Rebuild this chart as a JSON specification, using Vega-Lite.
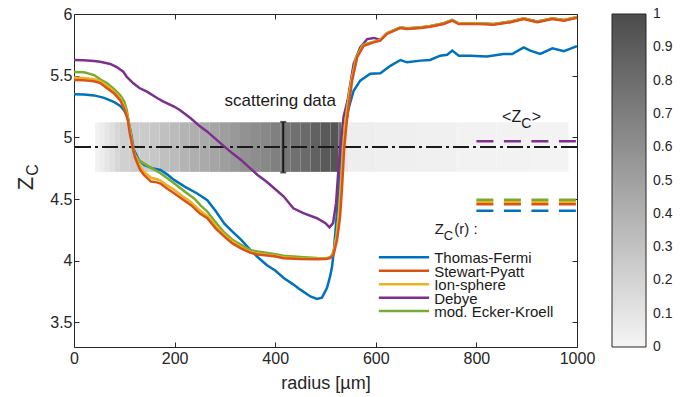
{
  "$schema": "https://vega.github.io/schema/vega-lite/v6.json",
  "width": 503,
  "height": 333,
  "autosize": {"type": "none"},
  "padding": {"left": 74, "top": 14, "right": 119, "bottom": 50},
  "background": "white",
  "data": {"values": [{}]},
  "config": {
    "font": "Liberation Sans",
    "view": {"stroke": null},
    "axis": {
      "grid": false,
      "labelFont": "Liberation Sans",
      "labelFontSize": 16,
      "labelColor": "#262626",
      "labelFlush": false,
      "tickColor": "#262626",
      "domainColor": "#262626",
      "tickSize": -5,
      "tickWidth": 1,
      "domainWidth": 1,
      "titleFont": "Liberation Sans",
      "titleFontSize": 18,
      "titleFontWeight": "normal",
      "titleColor": "#262626"
    }
  },
  "datasets": {
    "scatter": [
      {"r": 416, "mean": 4.922, "lo": 4.715, "hi": 5.125}
    ],
    "band": [
      {"r0": 42, "r1": 50, "v": 0.02},
      {"r0": 50, "r1": 60, "v": 0.05},
      {"r0": 60, "r1": 70, "v": 0.09},
      {"r0": 70, "r1": 80, "v": 0.13},
      {"r0": 80, "r1": 90, "v": 0.18},
      {"r0": 90, "r1": 110, "v": 0.22},
      {"r0": 110, "r1": 130, "v": 0.24},
      {"r0": 130, "r1": 150, "v": 0.25},
      {"r0": 150, "r1": 170, "v": 0.27},
      {"r0": 170, "r1": 190, "v": 0.31},
      {"r0": 190, "r1": 210, "v": 0.34},
      {"r0": 210, "r1": 230, "v": 0.38},
      {"r0": 230, "r1": 250, "v": 0.41},
      {"r0": 250, "r1": 270, "v": 0.44},
      {"r0": 270, "r1": 290, "v": 0.47},
      {"r0": 290, "r1": 310, "v": 0.51},
      {"r0": 310, "r1": 330, "v": 0.54},
      {"r0": 330, "r1": 350, "v": 0.58},
      {"r0": 350, "r1": 370, "v": 0.61},
      {"r0": 370, "r1": 390, "v": 0.64},
      {"r0": 390, "r1": 410, "v": 0.69},
      {"r0": 410, "r1": 430, "v": 0.74},
      {"r0": 430, "r1": 450, "v": 0.78},
      {"r0": 450, "r1": 470, "v": 0.82},
      {"r0": 470, "r1": 490, "v": 0.87},
      {"r0": 490, "r1": 510, "v": 0.92},
      {"r0": 510, "r1": 526, "v": 0.94},
      {"r0": 526, "r1": 532, "v": 0.8},
      {"r0": 532, "r1": 537, "v": 0.4},
      {"r0": 537, "r1": 545, "v": 0.08},
      {"r0": 545, "r1": 600, "v": 0.04},
      {"r0": 600, "r1": 680, "v": 0.035},
      {"r0": 680, "r1": 760, "v": 0.03},
      {"r0": 760, "r1": 840, "v": 0.02},
      {"r0": 840, "r1": 910, "v": 0.015},
      {"r0": 910, "r1": 983, "v": 0.01}
    ],
    "means": [
      {"model": "Thomas-Fermi", "mean": 4.404},
      {"model": "Stewart-Pyatt", "mean": 4.458},
      {"model": "Ion-sphere", "mean": 4.477},
      {"model": "Debye", "mean": 4.968},
      {"model": "mod. Ecker-Kroell", "mean": 4.493}
    ],
    "curves": [
      {"model": "Thomas-Fermi", "r": 0, "z": 5.35},
      {"model": "Thomas-Fermi", "r": 20, "z": 5.347},
      {"model": "Thomas-Fermi", "r": 40, "z": 5.34},
      {"model": "Thomas-Fermi", "r": 60, "z": 5.32},
      {"model": "Thomas-Fermi", "r": 80, "z": 5.285},
      {"model": "Thomas-Fermi", "r": 92, "z": 5.255},
      {"model": "Thomas-Fermi", "r": 100, "z": 5.215},
      {"model": "Thomas-Fermi", "r": 106, "z": 5.17},
      {"model": "Thomas-Fermi", "r": 113, "z": 5.04},
      {"model": "Thomas-Fermi", "r": 119, "z": 4.9},
      {"model": "Thomas-Fermi", "r": 129, "z": 4.815},
      {"model": "Thomas-Fermi", "r": 140, "z": 4.775},
      {"model": "Thomas-Fermi", "r": 155, "z": 4.75},
      {"model": "Thomas-Fermi", "r": 172, "z": 4.735},
      {"model": "Thomas-Fermi", "r": 185, "z": 4.7},
      {"model": "Thomas-Fermi", "r": 199, "z": 4.655},
      {"model": "Thomas-Fermi", "r": 220, "z": 4.6},
      {"model": "Thomas-Fermi", "r": 245, "z": 4.545},
      {"model": "Thomas-Fermi", "r": 265, "z": 4.49},
      {"model": "Thomas-Fermi", "r": 282, "z": 4.4},
      {"model": "Thomas-Fermi", "r": 299, "z": 4.3},
      {"model": "Thomas-Fermi", "r": 315, "z": 4.235},
      {"model": "Thomas-Fermi", "r": 332, "z": 4.17},
      {"model": "Thomas-Fermi", "r": 350, "z": 4.09},
      {"model": "Thomas-Fermi", "r": 365, "z": 4.03},
      {"model": "Thomas-Fermi", "r": 383, "z": 3.965},
      {"model": "Thomas-Fermi", "r": 400, "z": 3.92},
      {"model": "Thomas-Fermi", "r": 417, "z": 3.86},
      {"model": "Thomas-Fermi", "r": 435, "z": 3.81},
      {"model": "Thomas-Fermi", "r": 450, "z": 3.765},
      {"model": "Thomas-Fermi", "r": 470, "z": 3.71},
      {"model": "Thomas-Fermi", "r": 483, "z": 3.69},
      {"model": "Thomas-Fermi", "r": 493, "z": 3.7},
      {"model": "Thomas-Fermi", "r": 503, "z": 3.78},
      {"model": "Thomas-Fermi", "r": 509, "z": 3.87},
      {"model": "Thomas-Fermi", "r": 513, "z": 3.95},
      {"model": "Thomas-Fermi", "r": 517, "z": 4.1},
      {"model": "Thomas-Fermi", "r": 521, "z": 4.3},
      {"model": "Thomas-Fermi", "r": 525, "z": 4.5},
      {"model": "Thomas-Fermi", "r": 530, "z": 4.75},
      {"model": "Thomas-Fermi", "r": 535, "z": 4.95},
      {"model": "Thomas-Fermi", "r": 540, "z": 5.1},
      {"model": "Thomas-Fermi", "r": 545, "z": 5.22},
      {"model": "Thomas-Fermi", "r": 549, "z": 5.28},
      {"model": "Thomas-Fermi", "r": 556, "z": 5.378},
      {"model": "Thomas-Fermi", "r": 569, "z": 5.46},
      {"model": "Thomas-Fermi", "r": 589, "z": 5.515},
      {"model": "Thomas-Fermi", "r": 609, "z": 5.52},
      {"model": "Thomas-Fermi", "r": 629, "z": 5.58},
      {"model": "Thomas-Fermi", "r": 649, "z": 5.627},
      {"model": "Thomas-Fermi", "r": 662, "z": 5.608},
      {"model": "Thomas-Fermi", "r": 689, "z": 5.622},
      {"model": "Thomas-Fermi", "r": 708, "z": 5.627},
      {"model": "Thomas-Fermi", "r": 728, "z": 5.662},
      {"model": "Thomas-Fermi", "r": 742, "z": 5.67},
      {"model": "Thomas-Fermi", "r": 752, "z": 5.703},
      {"model": "Thomas-Fermi", "r": 765, "z": 5.662},
      {"model": "Thomas-Fermi", "r": 788, "z": 5.662},
      {"model": "Thomas-Fermi", "r": 821, "z": 5.655},
      {"model": "Thomas-Fermi", "r": 854, "z": 5.676},
      {"model": "Thomas-Fermi", "r": 871, "z": 5.676},
      {"model": "Thomas-Fermi", "r": 894, "z": 5.73},
      {"model": "Thomas-Fermi", "r": 907, "z": 5.703},
      {"model": "Thomas-Fermi", "r": 927, "z": 5.676},
      {"model": "Thomas-Fermi", "r": 951, "z": 5.722},
      {"model": "Thomas-Fermi", "r": 974, "z": 5.698},
      {"model": "Thomas-Fermi", "r": 1000, "z": 5.74},

      {"model": "Debye", "r": 0, "z": 5.627},
      {"model": "Debye", "r": 20, "z": 5.625},
      {"model": "Debye", "r": 40, "z": 5.618},
      {"model": "Debye", "r": 52, "z": 5.613},
      {"model": "Debye", "r": 72, "z": 5.595},
      {"model": "Debye", "r": 85, "z": 5.57},
      {"model": "Debye", "r": 98, "z": 5.532},
      {"model": "Debye", "r": 105, "z": 5.49},
      {"model": "Debye", "r": 118, "z": 5.438},
      {"model": "Debye", "r": 130, "z": 5.4},
      {"model": "Debye", "r": 145, "z": 5.37},
      {"model": "Debye", "r": 166, "z": 5.317},
      {"model": "Debye", "r": 178, "z": 5.29},
      {"model": "Debye", "r": 199, "z": 5.25},
      {"model": "Debye", "r": 211, "z": 5.22},
      {"model": "Debye", "r": 232, "z": 5.155},
      {"model": "Debye", "r": 251, "z": 5.087},
      {"model": "Debye", "r": 265, "z": 5.046},
      {"model": "Debye", "r": 282, "z": 4.985},
      {"model": "Debye", "r": 299, "z": 4.925},
      {"model": "Debye", "r": 315, "z": 4.87},
      {"model": "Debye", "r": 332, "z": 4.817},
      {"model": "Debye", "r": 350, "z": 4.75},
      {"model": "Debye", "r": 365, "z": 4.695},
      {"model": "Debye", "r": 383, "z": 4.64},
      {"model": "Debye", "r": 398, "z": 4.587},
      {"model": "Debye", "r": 417, "z": 4.52},
      {"model": "Debye", "r": 436, "z": 4.425},
      {"model": "Debye", "r": 456, "z": 4.385},
      {"model": "Debye", "r": 483, "z": 4.344},
      {"model": "Debye", "r": 500, "z": 4.304},
      {"model": "Debye", "r": 508, "z": 4.27},
      {"model": "Debye", "r": 515, "z": 4.304},
      {"model": "Debye", "r": 521, "z": 4.466},
      {"model": "Debye", "r": 525, "z": 4.7},
      {"model": "Debye", "r": 529, "z": 4.898},
      {"model": "Debye", "r": 536, "z": 5.168},
      {"model": "Debye", "r": 544, "z": 5.3},
      {"model": "Debye", "r": 550, "z": 5.45},
      {"model": "Debye", "r": 556, "z": 5.595},
      {"model": "Debye", "r": 569, "z": 5.73},
      {"model": "Debye", "r": 583, "z": 5.797},
      {"model": "Debye", "r": 596, "z": 5.806},
      {"model": "Debye", "r": 609, "z": 5.79},
      {"model": "Debye", "r": 622, "z": 5.843},
      {"model": "Debye", "r": 649, "z": 5.891},
      {"model": "Debye", "r": 662, "z": 5.882},
      {"model": "Debye", "r": 689, "z": 5.891},
      {"model": "Debye", "r": 708, "z": 5.901},
      {"model": "Debye", "r": 735, "z": 5.923},
      {"model": "Debye", "r": 752, "z": 5.95},
      {"model": "Debye", "r": 765, "z": 5.923},
      {"model": "Debye", "r": 808, "z": 5.923},
      {"model": "Debye", "r": 834, "z": 5.917},
      {"model": "Debye", "r": 868, "z": 5.937},
      {"model": "Debye", "r": 894, "z": 5.964},
      {"model": "Debye", "r": 921, "z": 5.937},
      {"model": "Debye", "r": 951, "z": 5.964},
      {"model": "Debye", "r": 974, "z": 5.95},
      {"model": "Debye", "r": 1000, "z": 5.974},

      {"model": "mod. Ecker-Kroell", "r": 0, "z": 5.53},
      {"model": "mod. Ecker-Kroell", "r": 20, "z": 5.527},
      {"model": "mod. Ecker-Kroell", "r": 40, "z": 5.505},
      {"model": "mod. Ecker-Kroell", "r": 52, "z": 5.47},
      {"model": "mod. Ecker-Kroell", "r": 66, "z": 5.438},
      {"model": "mod. Ecker-Kroell", "r": 80, "z": 5.39},
      {"model": "mod. Ecker-Kroell", "r": 92, "z": 5.34},
      {"model": "mod. Ecker-Kroell", "r": 100, "z": 5.29},
      {"model": "mod. Ecker-Kroell", "r": 105, "z": 5.22},
      {"model": "mod. Ecker-Kroell", "r": 109, "z": 5.117},
      {"model": "mod. Ecker-Kroell", "r": 114, "z": 4.99},
      {"model": "mod. Ecker-Kroell", "r": 119, "z": 4.874},
      {"model": "mod. Ecker-Kroell", "r": 126, "z": 4.83},
      {"model": "mod. Ecker-Kroell", "r": 133, "z": 4.803},
      {"model": "mod. Ecker-Kroell", "r": 150, "z": 4.76},
      {"model": "mod. Ecker-Kroell", "r": 165, "z": 4.725},
      {"model": "mod. Ecker-Kroell", "r": 172, "z": 4.709},
      {"model": "mod. Ecker-Kroell", "r": 185, "z": 4.67},
      {"model": "mod. Ecker-Kroell", "r": 199, "z": 4.628},
      {"model": "mod. Ecker-Kroell", "r": 220, "z": 4.56},
      {"model": "mod. Ecker-Kroell", "r": 240, "z": 4.5},
      {"model": "mod. Ecker-Kroell", "r": 251, "z": 4.45},
      {"model": "mod. Ecker-Kroell", "r": 265, "z": 4.398},
      {"model": "mod. Ecker-Kroell", "r": 280, "z": 4.32},
      {"model": "mod. Ecker-Kroell", "r": 297, "z": 4.236},
      {"model": "mod. Ecker-Kroell", "r": 315, "z": 4.17},
      {"model": "mod. Ecker-Kroell", "r": 332, "z": 4.128},
      {"model": "mod. Ecker-Kroell", "r": 350, "z": 4.087},
      {"model": "mod. Ecker-Kroell", "r": 365, "z": 4.074},
      {"model": "mod. Ecker-Kroell", "r": 398, "z": 4.055},
      {"model": "mod. Ecker-Kroell", "r": 417, "z": 4.04},
      {"model": "mod. Ecker-Kroell", "r": 450, "z": 4.03},
      {"model": "mod. Ecker-Kroell", "r": 483, "z": 4.022},
      {"model": "mod. Ecker-Kroell", "r": 503, "z": 4.02},
      {"model": "mod. Ecker-Kroell", "r": 510, "z": 4.03},
      {"model": "mod. Ecker-Kroell", "r": 516, "z": 4.07},
      {"model": "mod. Ecker-Kroell", "r": 522, "z": 4.2},
      {"model": "mod. Ecker-Kroell", "r": 527, "z": 4.4},
      {"model": "mod. Ecker-Kroell", "r": 531, "z": 4.65},
      {"model": "mod. Ecker-Kroell", "r": 535, "z": 4.92},
      {"model": "mod. Ecker-Kroell", "r": 539, "z": 5.12},
      {"model": "mod. Ecker-Kroell", "r": 544, "z": 5.27},
      {"model": "mod. Ecker-Kroell", "r": 551, "z": 5.45},
      {"model": "mod. Ecker-Kroell", "r": 561, "z": 5.65},
      {"model": "mod. Ecker-Kroell", "r": 574, "z": 5.75},
      {"model": "mod. Ecker-Kroell", "r": 596, "z": 5.776},
      {"model": "mod. Ecker-Kroell", "r": 609, "z": 5.79},
      {"model": "mod. Ecker-Kroell", "r": 622, "z": 5.844},
      {"model": "mod. Ecker-Kroell", "r": 649, "z": 5.893},
      {"model": "mod. Ecker-Kroell", "r": 662, "z": 5.884},
      {"model": "mod. Ecker-Kroell", "r": 689, "z": 5.893},
      {"model": "mod. Ecker-Kroell", "r": 708, "z": 5.903},
      {"model": "mod. Ecker-Kroell", "r": 735, "z": 5.925},
      {"model": "mod. Ecker-Kroell", "r": 752, "z": 5.952},
      {"model": "mod. Ecker-Kroell", "r": 765, "z": 5.925},
      {"model": "mod. Ecker-Kroell", "r": 808, "z": 5.925},
      {"model": "mod. Ecker-Kroell", "r": 834, "z": 5.919},
      {"model": "mod. Ecker-Kroell", "r": 868, "z": 5.939},
      {"model": "mod. Ecker-Kroell", "r": 894, "z": 5.966},
      {"model": "mod. Ecker-Kroell", "r": 921, "z": 5.939},
      {"model": "mod. Ecker-Kroell", "r": 951, "z": 5.966},
      {"model": "mod. Ecker-Kroell", "r": 974, "z": 5.952},
      {"model": "mod. Ecker-Kroell", "r": 1000, "z": 5.976},

      {"model": "Ion-sphere", "r": 0, "z": 5.485},
      {"model": "Ion-sphere", "r": 20, "z": 5.482},
      {"model": "Ion-sphere", "r": 40, "z": 5.472},
      {"model": "Ion-sphere", "r": 52, "z": 5.455},
      {"model": "Ion-sphere", "r": 65, "z": 5.42},
      {"model": "Ion-sphere", "r": 80, "z": 5.37},
      {"model": "Ion-sphere", "r": 92, "z": 5.315},
      {"model": "Ion-sphere", "r": 101, "z": 5.24},
      {"model": "Ion-sphere", "r": 107, "z": 5.16},
      {"model": "Ion-sphere", "r": 111, "z": 5.06},
      {"model": "Ion-sphere", "r": 115, "z": 4.96},
      {"model": "Ion-sphere", "r": 121, "z": 4.855},
      {"model": "Ion-sphere", "r": 131, "z": 4.765},
      {"model": "Ion-sphere", "r": 139, "z": 4.72},
      {"model": "Ion-sphere", "r": 153, "z": 4.672},
      {"model": "Ion-sphere", "r": 165, "z": 4.66},
      {"model": "Ion-sphere", "r": 172, "z": 4.65},
      {"model": "Ion-sphere", "r": 185, "z": 4.61},
      {"model": "Ion-sphere", "r": 199, "z": 4.575},
      {"model": "Ion-sphere", "r": 215, "z": 4.525},
      {"model": "Ion-sphere", "r": 232, "z": 4.475},
      {"model": "Ion-sphere", "r": 251, "z": 4.405},
      {"model": "Ion-sphere", "r": 265, "z": 4.362},
      {"model": "Ion-sphere", "r": 282, "z": 4.28},
      {"model": "Ion-sphere", "r": 299, "z": 4.21},
      {"model": "Ion-sphere", "r": 315, "z": 4.155},
      {"model": "Ion-sphere", "r": 332, "z": 4.11},
      {"model": "Ion-sphere", "r": 350, "z": 4.072},
      {"model": "Ion-sphere", "r": 365, "z": 4.058},
      {"model": "Ion-sphere", "r": 398, "z": 4.04},
      {"model": "Ion-sphere", "r": 417, "z": 4.027},
      {"model": "Ion-sphere", "r": 450, "z": 4.018},
      {"model": "Ion-sphere", "r": 483, "z": 4.015},
      {"model": "Ion-sphere", "r": 500, "z": 4.016},
      {"model": "Ion-sphere", "r": 509, "z": 4.022},
      {"model": "Ion-sphere", "r": 516, "z": 4.06},
      {"model": "Ion-sphere", "r": 522, "z": 4.2},
      {"model": "Ion-sphere", "r": 527, "z": 4.4},
      {"model": "Ion-sphere", "r": 531, "z": 4.62},
      {"model": "Ion-sphere", "r": 535, "z": 4.9},
      {"model": "Ion-sphere", "r": 539, "z": 5.1},
      {"model": "Ion-sphere", "r": 544, "z": 5.25},
      {"model": "Ion-sphere", "r": 551, "z": 5.45},
      {"model": "Ion-sphere", "r": 562, "z": 5.65},
      {"model": "Ion-sphere", "r": 575, "z": 5.745},
      {"model": "Ion-sphere", "r": 596, "z": 5.774},
      {"model": "Ion-sphere", "r": 609, "z": 5.788},
      {"model": "Ion-sphere", "r": 622, "z": 5.841},
      {"model": "Ion-sphere", "r": 649, "z": 5.89},
      {"model": "Ion-sphere", "r": 662, "z": 5.881},
      {"model": "Ion-sphere", "r": 689, "z": 5.89},
      {"model": "Ion-sphere", "r": 708, "z": 5.9},
      {"model": "Ion-sphere", "r": 735, "z": 5.922},
      {"model": "Ion-sphere", "r": 752, "z": 5.949},
      {"model": "Ion-sphere", "r": 765, "z": 5.922},
      {"model": "Ion-sphere", "r": 808, "z": 5.922},
      {"model": "Ion-sphere", "r": 834, "z": 5.916},
      {"model": "Ion-sphere", "r": 868, "z": 5.936},
      {"model": "Ion-sphere", "r": 894, "z": 5.963},
      {"model": "Ion-sphere", "r": 921, "z": 5.936},
      {"model": "Ion-sphere", "r": 951, "z": 5.963},
      {"model": "Ion-sphere", "r": 974, "z": 5.949},
      {"model": "Ion-sphere", "r": 1000, "z": 5.973},

      {"model": "Stewart-Pyatt", "r": 0, "z": 5.465},
      {"model": "Stewart-Pyatt", "r": 20, "z": 5.462},
      {"model": "Stewart-Pyatt", "r": 40, "z": 5.455},
      {"model": "Stewart-Pyatt", "r": 52, "z": 5.44},
      {"model": "Stewart-Pyatt", "r": 65, "z": 5.4},
      {"model": "Stewart-Pyatt", "r": 80, "z": 5.355},
      {"model": "Stewart-Pyatt", "r": 92, "z": 5.3},
      {"model": "Stewart-Pyatt", "r": 101, "z": 5.22},
      {"model": "Stewart-Pyatt", "r": 107, "z": 5.14},
      {"model": "Stewart-Pyatt", "r": 111, "z": 5.03},
      {"model": "Stewart-Pyatt", "r": 115, "z": 4.95},
      {"model": "Stewart-Pyatt", "r": 121, "z": 4.84},
      {"model": "Stewart-Pyatt", "r": 131, "z": 4.74},
      {"model": "Stewart-Pyatt", "r": 139, "z": 4.695},
      {"model": "Stewart-Pyatt", "r": 153, "z": 4.641},
      {"model": "Stewart-Pyatt", "r": 165, "z": 4.635},
      {"model": "Stewart-Pyatt", "r": 172, "z": 4.625},
      {"model": "Stewart-Pyatt", "r": 185, "z": 4.585},
      {"model": "Stewart-Pyatt", "r": 199, "z": 4.547},
      {"model": "Stewart-Pyatt", "r": 215, "z": 4.5},
      {"model": "Stewart-Pyatt", "r": 232, "z": 4.452},
      {"model": "Stewart-Pyatt", "r": 251, "z": 4.38},
      {"model": "Stewart-Pyatt", "r": 265, "z": 4.345},
      {"model": "Stewart-Pyatt", "r": 282, "z": 4.26},
      {"model": "Stewart-Pyatt", "r": 299, "z": 4.195},
      {"model": "Stewart-Pyatt", "r": 315, "z": 4.14},
      {"model": "Stewart-Pyatt", "r": 332, "z": 4.1},
      {"model": "Stewart-Pyatt", "r": 350, "z": 4.065},
      {"model": "Stewart-Pyatt", "r": 365, "z": 4.05},
      {"model": "Stewart-Pyatt", "r": 398, "z": 4.035},
      {"model": "Stewart-Pyatt", "r": 417, "z": 4.02},
      {"model": "Stewart-Pyatt", "r": 450, "z": 4.013},
      {"model": "Stewart-Pyatt", "r": 483, "z": 4.012},
      {"model": "Stewart-Pyatt", "r": 500, "z": 4.013},
      {"model": "Stewart-Pyatt", "r": 509, "z": 4.02},
      {"model": "Stewart-Pyatt", "r": 516, "z": 4.047},
      {"model": "Stewart-Pyatt", "r": 523, "z": 4.17},
      {"model": "Stewart-Pyatt", "r": 529, "z": 4.357},
      {"model": "Stewart-Pyatt", "r": 533, "z": 4.6},
      {"model": "Stewart-Pyatt", "r": 537, "z": 4.9},
      {"model": "Stewart-Pyatt", "r": 541, "z": 5.08},
      {"model": "Stewart-Pyatt", "r": 546, "z": 5.25},
      {"model": "Stewart-Pyatt", "r": 553, "z": 5.46},
      {"model": "Stewart-Pyatt", "r": 563, "z": 5.65},
      {"model": "Stewart-Pyatt", "r": 576, "z": 5.743},
      {"model": "Stewart-Pyatt", "r": 596, "z": 5.77},
      {"model": "Stewart-Pyatt", "r": 609, "z": 5.784},
      {"model": "Stewart-Pyatt", "r": 622, "z": 5.838},
      {"model": "Stewart-Pyatt", "r": 649, "z": 5.887},
      {"model": "Stewart-Pyatt", "r": 662, "z": 5.878},
      {"model": "Stewart-Pyatt", "r": 689, "z": 5.887},
      {"model": "Stewart-Pyatt", "r": 708, "z": 5.897},
      {"model": "Stewart-Pyatt", "r": 735, "z": 5.919},
      {"model": "Stewart-Pyatt", "r": 752, "z": 5.946},
      {"model": "Stewart-Pyatt", "r": 765, "z": 5.919},
      {"model": "Stewart-Pyatt", "r": 808, "z": 5.919},
      {"model": "Stewart-Pyatt", "r": 834, "z": 5.913},
      {"model": "Stewart-Pyatt", "r": 868, "z": 5.933},
      {"model": "Stewart-Pyatt", "r": 894, "z": 5.96},
      {"model": "Stewart-Pyatt", "r": 921, "z": 5.933},
      {"model": "Stewart-Pyatt", "r": 951, "z": 5.96},
      {"model": "Stewart-Pyatt", "r": 974, "z": 5.946},
      {"model": "Stewart-Pyatt", "r": 1000, "z": 5.97}
    ]
  },
  "layer": [
    {
      "data": {"name": "band"},
      "mark": {"type": "rect"},
      "encoding": {
        "x": {"field": "r0", "type": "quantitative", "scale": {"domain": [0, 1000], "nice": false, "zero": false},
              "axis": {"orient": "top", "values": [0, 200, 400, 600, 800, 1000], "labels": false, "title": null}},
        "x2": {"field": "r1"},
        "y": {"datum": 4.72, "type": "quantitative", "scale": {"domain": [3.3, 6], "nice": false, "zero": false}, "axis": null},
        "y2": {"datum": 5.122},
        "fill": {"field": "v", "type": "quantitative",
                 "scale": {"domain": [0, 1], "range": ["#f5f5f5", "#4b4b4b"], "interpolate": "rgb"},
                 "legend": {"orient": "none", "legendX": 538, "legendY": 0, "direction": "vertical",
                            "gradientLength": 333, "gradientThickness": 34, "title": null,
                            "values": [0, 0.1, 0.2, 0.3, 0.4, 0.5, 0.6, 0.7, 0.8, 0.9, 1], "format": "~g",
                            "labelFontSize": 14, "labelOffset": 7, "labelOverlap": false, "labelColor": "#262626",
                            "gradientStrokeColor": "#262626", "gradientStrokeWidth": 1,
                            "encode": {"labels": {"update": {"baseline": {"value": "middle"}}}}}}
      }
    },
    {
      "data": {"name": "scatter"},
      "mark": {"type": "rule", "color": "#1a1a1a", "strokeWidth": 2, "strokeDash": [16, 4, 3, 4]},
      "encoding": {
        "y": {"field": "mean", "type": "quantitative", "scale": {"domain": [3.3, 6], "nice": false, "zero": false}, "axis": null}
      }
    },
    {
      "data": {"name": "scatter"},
      "mark": {"type": "rule", "color": "#1a1a1a", "strokeWidth": 2},
      "encoding": {
        "x": {"field": "r", "type": "quantitative", "scale": {"domain": [0, 1000], "nice": false, "zero": false}, "axis": null},
        "y": {"field": "lo", "type": "quantitative", "scale": {"domain": [3.3, 6], "nice": false, "zero": false}, "axis": null},
        "y2": {"field": "hi"}
      }
    },
    {
      "data": {"name": "scatter"},
      "mark": {"type": "tick", "orient": "horizontal", "color": "#1a1a1a", "size": 6, "thickness": 2},
      "encoding": {
        "x": {"field": "r", "type": "quantitative", "scale": {"domain": [0, 1000], "nice": false, "zero": false}, "axis": null},
        "y": {"field": "lo", "type": "quantitative", "scale": {"domain": [3.3, 6], "nice": false, "zero": false}, "axis": null}
      }
    },
    {
      "data": {"name": "scatter"},
      "mark": {"type": "tick", "orient": "horizontal", "color": "#1a1a1a", "size": 6, "thickness": 2},
      "encoding": {
        "x": {"field": "r", "type": "quantitative", "scale": {"domain": [0, 1000], "nice": false, "zero": false}, "axis": null},
        "y": {"field": "hi", "type": "quantitative", "scale": {"domain": [3.3, 6], "nice": false, "zero": false}, "axis": null}
      }
    },
    {
      "data": {"name": "curves"},
      "mark": {"type": "line", "strokeWidth": 2.5, "interpolate": "linear"},
      "encoding": {
        "x": {"field": "r", "type": "quantitative", "scale": {"domain": [0, 1000], "nice": false, "zero": false},
              "axis": {"orient": "bottom", "values": [0, 200, 400, 600, 800, 1000], "format": "d", "labelPadding": 8,
                       "title": "radius [µm]", "titleY": 41, "titleBaseline": "alphabetic"}},
        "y": {"field": "z", "type": "quantitative", "scale": {"domain": [3.3, 6], "nice": false, "zero": false},
              "axis": {"orient": "left", "values": [3.5, 4, 4.5, 5, 5.5, 6], "format": "~g", "labelPadding": 7,
                       "title": "Z", "titleFontSize": 22, "titleX": -42, "titleY": 169, "titleAngle": 270, "titleAlign": "center", "titleBaseline": "alphabetic"}},
        "stroke": {"field": "model", "type": "nominal",
                   "scale": {"domain": ["Thomas-Fermi", "Stewart-Pyatt", "Ion-sphere", "Debye", "mod. Ecker-Kroell"],
                             "range": ["#0072BD", "#D95319", "#EDB120", "#7E2F8E", "#77AC30"]},
                   "legend": null}
      }
    },
    {
      "data": {"name": "means"},
      "mark": {"type": "rule", "strokeWidth": 2.5, "strokeDash": [17, 10.5]},
      "encoding": {
        "x": {"datum": 800, "type": "quantitative", "scale": {"domain": [0, 1000], "nice": false, "zero": false}, "axis": null},
        "x2": {"datum": 1000},
        "y": {"field": "mean", "type": "quantitative", "scale": {"domain": [3.3, 6], "nice": false, "zero": false},
              "axis": {"orient": "right", "values": [3.5, 4, 4.5, 5, 5.5, 6], "labels": false, "title": null}},
        "stroke": {"field": "model", "type": "nominal", "legend": null}
      }
    },
    {
      "data": {"name": "means"},
      "mark": {"type": "rule", "strokeWidth": 2.5},
      "encoding": {
        "x": {"datum": 606, "type": "quantitative", "scale": {"domain": [0, 1000], "nice": false, "zero": false}, "axis": null},
        "x2": {"datum": 706},
        "y": {"datum": 4.082, "type": "quantitative", "scale": {"domain": [3.3, 6], "nice": false, "zero": false}, "axis": null},
        "yOffset": {"field": "model", "type": "nominal",
                    "scale": {"type": "point", "domain": ["Thomas-Fermi", "Stewart-Pyatt", "Ion-sphere", "Debye", "mod. Ecker-Kroell"], "range": [0, 67.3]}},
        "stroke": {"field": "model", "type": "nominal", "legend": null}
      }
    },
    {
      "data": {"name": "means"},
      "mark": {"type": "text", "align": "left", "baseline": "middle", "fontSize": 15, "color": "#1a1a1a", "dy": 1},
      "encoding": {
        "x": {"datum": 716, "type": "quantitative", "scale": {"domain": [0, 1000], "nice": false, "zero": false}, "axis": null},
        "y": {"datum": 4.082, "type": "quantitative", "scale": {"domain": [3.3, 6], "nice": false, "zero": false}, "axis": null},
        "yOffset": {"field": "model", "type": "nominal",
                    "scale": {"type": "point", "domain": ["Thomas-Fermi", "Stewart-Pyatt", "Ion-sphere", "Debye", "mod. Ecker-Kroell"], "range": [0, 67.3]}},
        "text": {"field": "model"}
      }
    },
    {
      "mark": {"type": "text", "align": "left", "baseline": "alphabetic", "fontSize": 15, "color": "#1a1a1a", "text": "Z"},
      "encoding": {
        "x": {"datum": 717, "type": "quantitative", "scale": {"domain": [0, 1000], "nice": false, "zero": false}, "axis": null},
        "y": {"datum": 4.217, "type": "quantitative", "scale": {"domain": [3.3, 6], "nice": false, "zero": false}, "axis": null}
      }
    },
    {
      "mark": {"type": "text", "align": "left", "baseline": "alphabetic", "fontSize": 13, "color": "#1a1a1a", "text": "C"},
      "encoding": {
        "x": {"datum": 735, "type": "quantitative", "scale": {"domain": [0, 1000], "nice": false, "zero": false}, "axis": null},
        "y": {"datum": 4.169, "type": "quantitative", "scale": {"domain": [3.3, 6], "nice": false, "zero": false}, "axis": null}
      }
    },
    {
      "mark": {"type": "text", "align": "left", "baseline": "alphabetic", "fontSize": 15, "color": "#1a1a1a", "text": "(r) :"},
      "encoding": {
        "x": {"datum": 756, "type": "quantitative", "scale": {"domain": [0, 1000], "nice": false, "zero": false}, "axis": null},
        "y": {"datum": 4.217, "type": "quantitative", "scale": {"domain": [3.3, 6], "nice": false, "zero": false}, "axis": null}
      }
    },
    {
      "mark": {"type": "text", "align": "center", "baseline": "alphabetic", "fontSize": 17, "color": "#1a1a1a", "text": "scattering data"},
      "encoding": {
        "x": {"datum": 410, "type": "quantitative", "scale": {"domain": [0, 1000], "nice": false, "zero": false}, "axis": null},
        "y": {"datum": 5.254, "type": "quantitative", "scale": {"domain": [3.3, 6], "nice": false, "zero": false}, "axis": null}
      }
    },
    {
      "mark": {"type": "text", "align": "left", "baseline": "alphabetic", "fontSize": 16, "color": "#1a1a1a", "text": "<Z"},
      "encoding": {
        "x": {"datum": 851, "type": "quantitative", "scale": {"domain": [0, 1000], "nice": false, "zero": false}, "axis": null},
        "y": {"datum": 5.125, "type": "quantitative", "scale": {"domain": [3.3, 6], "nice": false, "zero": false}, "axis": null}
      }
    },
    {
      "mark": {"type": "text", "align": "left", "baseline": "alphabetic", "fontSize": 14, "color": "#1a1a1a", "text": "C"},
      "encoding": {
        "x": {"datum": 889, "type": "quantitative", "scale": {"domain": [0, 1000], "nice": false, "zero": false}, "axis": null},
        "y": {"datum": 5.074, "type": "quantitative", "scale": {"domain": [3.3, 6], "nice": false, "zero": false}, "axis": null}
      }
    },
    {
      "mark": {"type": "text", "align": "left", "baseline": "alphabetic", "fontSize": 16, "color": "#1a1a1a", "text": ">"},
      "encoding": {
        "x": {"datum": 910, "type": "quantitative", "scale": {"domain": [0, 1000], "nice": false, "zero": false}, "axis": null},
        "y": {"datum": 5.125, "type": "quantitative", "scale": {"domain": [3.3, 6], "nice": false, "zero": false}, "axis": null}
      }
    },
    {
      "mark": {"type": "text", "align": "center", "baseline": "alphabetic", "fontSize": 16, "angle": 270, "color": "#262626", "text": "C"},
      "encoding": {
        "x": {"datum": -71, "type": "quantitative", "scale": {"domain": [0, 1000], "nice": false, "zero": false}, "axis": null},
        "y": {"datum": 4.736, "type": "quantitative", "scale": {"domain": [3.3, 6], "nice": false, "zero": false}, "axis": null}
      }
    }
  ],
  "resolve": {"axis": {"x": "independent", "y": "independent"}}
}
